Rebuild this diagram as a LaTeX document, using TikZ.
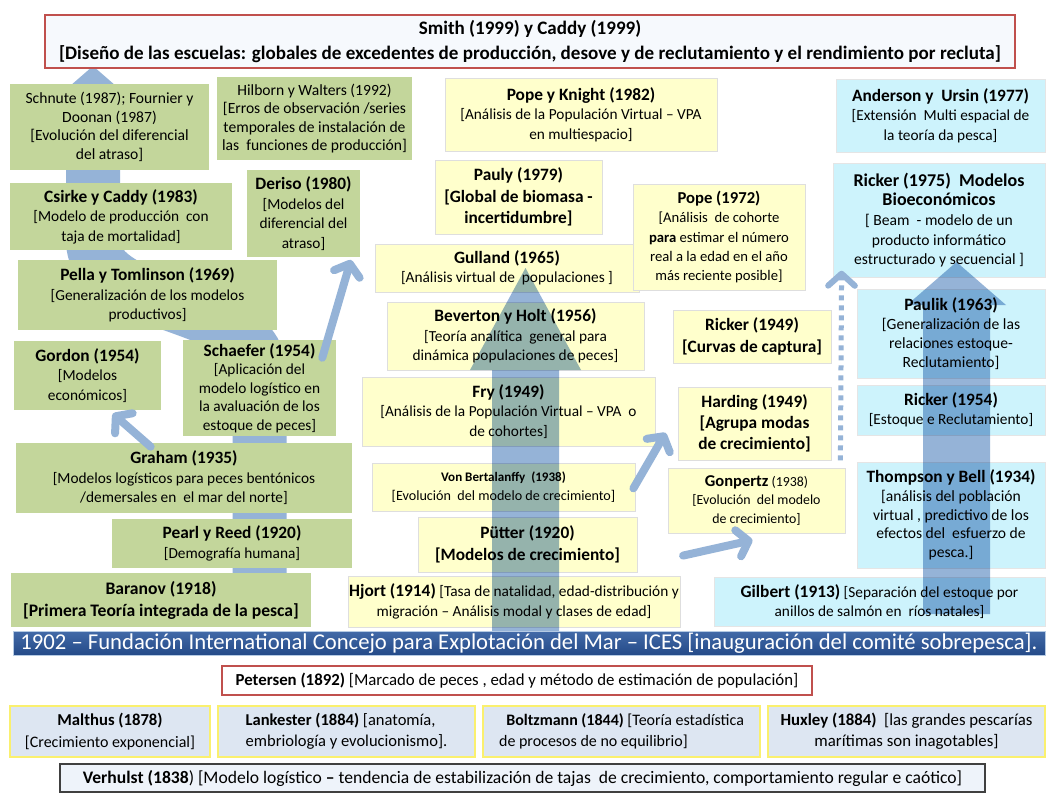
\documentclass[tikz,border=0pt]{standalone}
\usepackage{fontspec}
\setmainfont{Carlito}
\usetikzlibrary{arrows.meta}
\definecolor{olive}{RGB}{195,214,155}
\definecolor{paleyellow}{RGB}{255,255,204}
\definecolor{cyanbox}{RGB}{205,243,252}
\definecolor{band}{RGB}{149,179,215}
\definecolor{icestop}{RGB}{66,106,168}
\definecolor{icesbot}{RGB}{36,74,136}
\definecolor{greybox}{RGB}{221,230,242}
\definecolor{redframe}{RGB}{192,80,77}
\definecolor{yellowframe}{RGB}{250,240,110}
\definecolor{topfill}{RGB}{246,249,253}
% bold heading inside a box
\newcommand{\ttl}[1]{{\fontsize{13}{14}\selectfont\bfseries #1}}
\tikzset{
  frame/.style n args={4}{minimum width={(#3-#1)*0.75pt}, minimum height={(#4-#2)*0.75pt},
    at={({(#1+#3)/2},{(#2+#4)/2})}},
  base/.style={inner sep=0pt, align=center, font=\fontsize{11.5}{14.6}\selectfont},
  gbox/.style={base, fill=olive},
  ybox/.style={base, fill=paleyellow, draw=black!13, line width=0.6pt},
  cbox/.style={base, fill=cyanbox, draw=black!10, line width=0.6pt},
  rowbox/.style={base, fill=greybox, draw=yellowframe, line width=1pt},
  link/.style={draw=band, line width=6pt, line cap=round,
    -{Straight Barb[length=8pt,width=20pt,round]}},
}
\begin{document}
\begin{tikzpicture}[x=0.75pt,y=-0.75pt]
\useasboundingbox (0,0) rectangle (1049,796);
\fill[white] (0,0) rectangle (1049,796);

% wide band of the left column, running behind the green boxes
\fill[band] (93,66) -- (139,106) -- (47,106) -- cycle;
\draw[band, line width=40.5pt] (259.5,578) -- (259.5,372)
  .. controls (259.5,300) and (93,312) .. (93,240) -- (93,104);

% left column
\node (schnute) [gbox, frame={10}{84}{209}{170}, font=\fontsize{11.7}{13.9}\selectfont]
  {Schnute (1987); Fournier y\\Doonan (1987)\\{}[Evolución del diferencial\\del atraso]};
\node (hilborn) [gbox, frame={217}{77}{412}{160}, font=\fontsize{11.7}{13.9}\selectfont]
  {Hilborn y Walters (1992)\\{}[Erros de observación /series\\temporales de instalación de\\las\ \ funciones de producción]};
\node (csirke) [gbox, frame={10}{183}{232}{250}]
  {\ttl{Csirke y Caddy (1983)}\\{}[Modelo de producción\ \ con\\taja de mortalidad]};
\node (deriso) [gbox, frame={247}{170}{360}{257}]
  {\ttl{Deriso (1980)}\\{}[Modelos del\\diferencial del\\atraso]};
\node (pella) [gbox, frame={18}{260}{277}{330}]
  {\ttl{Pella y Tomlinson (1969)}\\{}[Generalización de los modelos\\productivos]};
\node (gordon) [gbox, frame={14}{341}{161}{410}]
  {\ttl{Gordon (1954)}\\{}[Modelos\\económicos]};
\node (schaefer) [gbox, frame={183}{340}{336}{436}, font=\fontsize{11.5}{13.8}\selectfont]
  {\ttl{Schaefer (1954)}\\{}[Aplicación del\\modelo logístico en\\la avaluación de los\\estoque de peces]};
\node (graham) [gbox, frame={16}{443}{352}{513}]
  {\ttl{Graham (1935)}\\{}[Modelos logísticos para peces bentónicos\\/demersales en\ \ el mar del norte]};
\node (pearl) [gbox, frame={112}{519}{352}{568}]
  {\ttl{Pearl y Reed (1920)}\\{}[Demografía humana]};
\node (baranov) [gbox, frame={11}{573}{311}{627}, font=\fontsize{13.2}{16.5}\selectfont\bfseries]
  {Baranov (1918)\\{}[Primera Teoría integrada de la pesca]};

% middle column
\node (popeknight) [ybox, frame={445}{78}{717}{151}]
  {\ttl{Pope y Knight (1982)}\\{}[Análisis de la Populación Virtual – VPA\\en multiespacio]};
\node (pauly) [ybox, frame={435}{160}{602}{234}, font=\fontsize{13}{16}\selectfont\bfseries]
  {Pauly (1979)\\{}[Global de biomasa -\\incertidumbre]};
\node (gulland) [ybox, frame={375}{244}{639}{292}]
  {\ttl{Gulland (1965)}\\{}[Análisis virtual de\ \ populaciones ]};
\node (beverton) [ybox, frame={387}{302}{644}{370}]
  {\ttl{Beverton y Holt (1956)}\\{}[Teoría analítica\ \ general para\\dinámica populaciones de peces]};
\node (fry) [ybox, frame={362}{377}{655}{446}]
  {\ttl{Fry (1949)}\\{}[Análisis de la Populación Virtual – VPA\ \ o\\de cohortes]};
\node (vonb) [ybox, frame={372}{463}{635}{511}, font=\fontsize{10.6}{14}\selectfont]
  {{\fontsize{9.8}{12}\selectfont\bfseries Von Bertalanffy\ \ (1938)}\\{}[Evolución\ \ del modelo de crecimiento]};
\node (putter) [ybox, frame={418}{517}{637}{572}, font=\fontsize{13}{17}\selectfont\bfseries]
  {Pütter (1920)\\{}[Modelos de crecimiento]};
\node (hjort) [ybox, frame={348}{576}{680}{627}]
  {\ttl{Hjort (1914)} [Tasa de natalidad, edad-distribución y\\migración – Análisis modal y clases de edad]};
\node (pope) [ybox, frame={633}{184}{805}{290}, font=\fontsize{11}{14.4}\selectfont]
  {{\fontsize{12.5}{14}\selectfont\bfseries Pope (1972)}\\{}[Análisis\ \ de cohorte\\\textbf{para} estimar el número\\real a la edad en el año\\más reciente posible]};
\node (ricker49) [ybox, frame={673}{310}{831}{363}, font=\fontsize{13}{16.5}\selectfont\bfseries]
  {Ricker (1949)\\{}[Curvas de captura]};
\node (harding) [ybox, frame={678}{387}{831}{460}, font=\fontsize{13}{15.6}\selectfont\bfseries]
  {Harding (1949)\\{}[Agrupa modas\\de crecimiento]};
\node (gonpertz) [ybox, frame={668}{468}{845}{533}, font=\fontsize{10.4}{13.6}\selectfont]
  {{\fontsize{12.4}{13.6}\selectfont\bfseries Gonpertz} (1938)\\{}[Evolución\ \ del modelo\\de crecimiento]};

% right column
\node (anderson) [cbox, frame={836}{79}{1045}{152}]
  {\ttl{Anderson y\ \ Ursin (1977)}\\{}[Extensión\ \ Multi espacial de\\la teoría da pesca]};
\node (ricker75) [cbox, frame={833}{163}{1045}{277}, font=\fontsize{11.7}{14.7}\selectfont]
  {{\fontsize{13.5}{14.7}\selectfont\bfseries Ricker (1975)\ \ Modelos}\\{\fontsize{13.5}{14.7}\selectfont\bfseries Bioeconómicos}\\{}[ Beam\ \ - modelo de un\\producto informático\\estructurado y secuencial ]};
\node (paulik) [cbox, frame={857}{289}{1045}{378}, font=\fontsize{11.7}{14.2}\selectfont]
  {\ttl{Paulik (1963)}\\{}[Generalización de las\\relaciones estoque-\\Reclutamiento]};
\node (ricker54) [cbox, frame={857}{385}{1045}{435}]
  {\ttl{Ricker (1954)}\\{}[Estoque e Reclutamiento]};
\node (thompson) [cbox, frame={857}{462}{1045}{568}, font=\fontsize{11.7}{14}\selectfont]
  {\ttl{Thompson y Bell (1934)}\\{}[análisis del población\\virtual , predictivo de los\\efectos del\ \ esfuerzo de\\pesca.]};
\node (gilbert) [cbox, frame={714}{577}{1045}{626}]
  {\ttl{Gilbert (1913)} [Separación del estoque por\\anillos de salmón en\ \ ríos natales]};

% wide bands drawn over the boxes
\begin{scope}[blend mode=multiply]
  \fill[band] (525.5,268) -- (581,370) -- (559,370) -- (559,633)
    -- (492,633) -- (492,370) -- (470,370) -- cycle;
  \fill[band] (956.5,262) -- (1006,305) -- (990,305) -- (990,614)
    -- (923,614) -- (923,305) -- (907,305) -- cycle;
\end{scope}

% connectors
\draw[link] ([xshift=-10.5pt,yshift=-13.5pt]schaefer.north east)
  -- ([xshift=-7pt,yshift=-2pt]deriso.south east);
\draw[link] ([xshift=-25pt,yshift=-3pt]graham.north)
  -- ([xshift=19pt,yshift=-2.5pt]gordon.south);
\draw[link] ([xshift=-1.5pt,yshift=-1pt]vonb.east)
  -- ([xshift=-9pt,yshift=-7pt]harding.west);
\draw[link] ([xshift=2pt,yshift=15pt]hjort.north east)
  -- ([xshift=-3pt,yshift=-5pt]gonpertz.south);
\draw[draw=band, line width=3.75pt, dash pattern=on 3.75pt off 3.75pt,
      -{Straight Barb[length=9pt,width=20pt,line width=4.5pt,round]}]
  ([xshift=6.75pt]harding.south east) -- ([xshift=6.75pt,yshift=5pt]ricker75.south west);

% top and bottom bands of text
\node (smith) [base, frame={45}{15}{1015}{68}, fill=topfill, draw=redframe, line width=0.9pt,
    font=\fontsize{14.3}{18.2}\selectfont\bfseries]
  {Smith (1999) y Caddy (1999)\\{}[Diseño de las escuelas: globales de excedentes de producción, desove y de reclutamiento y el rendimiento por recluta]};
\node (ices) [base, frame={13}{631}{1045}{655}, top color=icestop, bottom color=icesbot,
    draw=band!70!white, line width=0.75pt, text=white, font=\fontsize{17}{18}\selectfont]
  {1902 – Fundación International Concejo para Explotación del Mar – ICES [inauguración del comité sobrepesca].};
\node (petersen) [base, frame={222}{666}{812}{695}, fill=white, draw=redframe, line width=0.9pt,
    font=\fontsize{12.6}{14}\selectfont]
  {\textbf{Petersen (1892)} [Marcado de peces , edad y método de estimación de populación]};
\node (malthus) [rowbox, frame={10}{706}{210}{757}, font=\fontsize{12.5}{16}\selectfont]
  {\textbf{Malthus (1878)}\\{\fontsize{12}{12}\selectfont [Crecimiento exponencial]}};
\node (lankester) [rowbox, frame={218}{706}{475}{757}, align=left, font=\fontsize{12.4}{16}\selectfont]
  {\textbf{Lankester (1884)} [anatomía,\\embriología y evolucionismo].};
\node (boltzmann) [rowbox, frame={483}{706}{760}{757}, align=left, font=\fontsize{12}{16}\selectfont]
  {\ \ \textbf{Boltzmann (1844)} [Teoría estadística\\de procesos de no equilibrio]};
\node (huxley) [rowbox, frame={768}{706}{1045}{757}, font=\fontsize{12.6}{16}\selectfont]
  {\textbf{Huxley (1884)}\ \ [las grandes pescarías\\marítimas son inagotables]};
\node (verhulst) [base, frame={60}{764}{985}{792}, fill=topfill!70!greybox, draw=black!75, line width=0.8pt,
    font=\fontsize{13.2}{14}\selectfont]
  {\textbf{Verhulst (1838})\ [Modelo logístico \textbf{–} tendencia de estabilización de tajas\ \ de crecimiento, comportamiento regular e caótico]};
\end{tikzpicture}
\end{document}
